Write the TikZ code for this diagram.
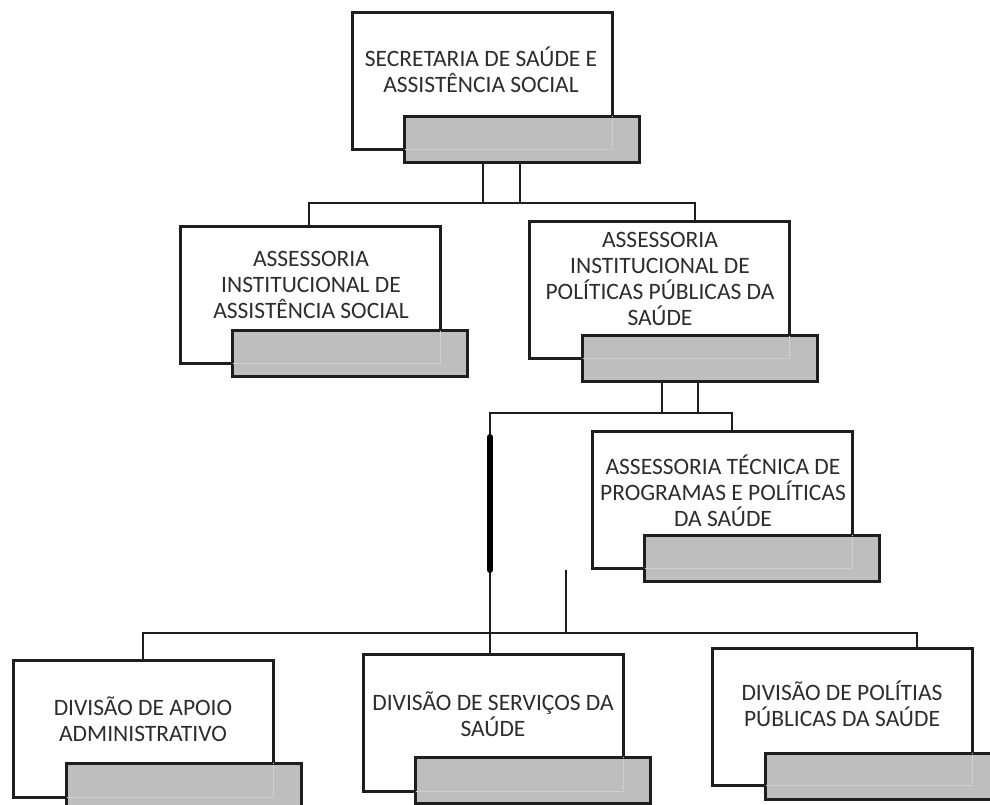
\documentclass[tikz,border=0pt]{standalone}
\usepackage{fontspec}
\setmainfont{Carlito}
\usetikzlibrary{positioning}
\definecolor{contorno}{RGB}{30,30,30}
\definecolor{tarjacinza}{RGB}{190,190,190}
\definecolor{letra}{RGB}{45,45,45}
\tikzset{
  caixa/.style={draw=contorno, line width=3pt, fill=white, outer sep=0pt,
    minimum width=260pt, minimum height=137pt},
  tarja/.style={draw=contorno, line width=3pt, fill=tarjacinza, outer sep=0pt,
    minimum width=235pt, minimum height=46pt},
  rotulo/.style={inner sep=0pt, align=center, text=letra,
    font=\fontsize{23.5}{26}\selectfont},
  oculta/.style={draw=white!88!black, line width=1pt, densely dotted},
  ligacao/.style={draw=contorno, line width=2.8pt},
  grossa/.style={draw=black, line width=6pt, line cap=round}
}
\begin{document}
\begin{tikzpicture}[x=1pt,y=-1pt]
  \useasboundingbox (0,0) rectangle (990,804);
  \clip (0,0) rectangle (990,804);

  % caixas
  \node[caixa] (sec) at (482,81) {};
  \node[tarja] (sec-g) at (521.5,139) {};
  \node[rotulo] (sec-t) at (481,70) {SECRETARIA DE SAÚDE E\\ASSISTÊNCIA SOCIAL};

  \node[caixa] (ais) at (310,295) {};
  \node[tarja] (ais-g) at (350,353.5) {};
  \node[rotulo] (ais-t) at (311,285) {ASSESSORIA\\INSTITUCIONAL DE\\ASSISTÊNCIA SOCIAL};

  \node[caixa] (aip) at (659,290) {};
  \node[tarja] (aip-g) at (699.5,358.5) {};
  \node[rotulo] (aip-t) at (660,279) {ASSESSORIA\\INSTITUCIONAL DE\\POLÍTICAS PÚBLICAS DA\\SAÚDE};

  \node[caixa] (atp) at (722,500) {};
  \node[tarja] (atp-g) at (761.5,558) {};
  \node[rotulo] (atp-t) at (723,491) {ASSESSORIA TÉCNICA DE\\PROGRAMAS E POLÍTICAS\\DA SAÚDE};

  \node[caixa] (dap) at (143.5,728.5) {};
  \node[tarja] (dap-g) at (183.5,786) {};
  \node[rotulo] (dap-t) at (143,719) {DIVISÃO DE APOIO\\ADMINISTRATIVO};

  \node[caixa] (dss) at (493,722.5) {};
  \node[tarja] (dss-g) at (533,780) {};
  \node[rotulo] (dss-t) at (493,714) {DIVISÃO DE SERVIÇOS DA\\SAÚDE};

  \node[caixa] (dpp) at (842.5,716.5) {};
  \node[tarja] (dpp-g) at (882.5,776) {};
  \node[rotulo] (dpp-t) at (842,704) {DIVISÃO DE POLÍTIAS\\PÚBLICAS DA SAÚDE};

  % bordas vistas por baixo da tarja
  \foreach \n in {sec,ais,aip,atp,dap,dss,dpp}
    \draw[oculta] (\n-g.north -| \n.east) -- (\n.south east) -- (\n.south -| \n-g.west);

  % ligacoes
  \coordinate (s1) at (483,203);
  \coordinate (s2) at (520,203);
  \draw[ligacao] (s1 |- sec-g.south) -- (s1);
  \draw[ligacao] (s2 |- sec-g.south) -- (s2);
  \coordinate (r1) at (309,203);
  \coordinate (r2) at (695,203);
  \draw[ligacao] (r1 |- ais.north) -- (r1) -- (r2) -- (r2 |- aip.north);

  \coordinate (p1) at (662,413);
  \coordinate (p2) at (698,413);
  \draw[ligacao] (p1 |- aip-g.south) -- (p1);
  \draw[ligacao] (p2 |- aip-g.south) -- (p2);
  \coordinate (q1) at (490,413);
  \coordinate (q2) at (732,413);
  \draw[ligacao] (q1 |- dss.north) -- (q1) -- (q2) -- (q2 |- atp.north);
  \coordinate (g1) at (490,437);
  \coordinate (g2) at (490,570);
  \draw[grossa] (g1) -- (g2);

  \coordinate (c1) at (566,570);
  \coordinate (c2) at (566,633);
  \draw[ligacao] (c1) -- (c2);
  \coordinate (b1) at (143,633);
  \coordinate (b2) at (917,633);
  \draw[ligacao] (b1 |- dap.north) -- (b1) -- (b2) -- (b2 |- dpp.north);
\end{tikzpicture}
\end{document}
